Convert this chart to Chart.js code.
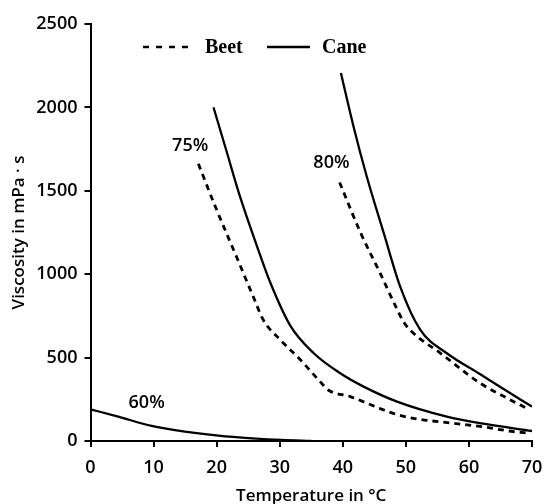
<!DOCTYPE html>
<html>
<head>
<meta charset="utf-8">
<script src="https://cdn.jsdelivr.net/npm/chart.js@4.4.1/dist/chart.umd.min.js"></script>
<style>
  html, body { margin:0; padding:0; background:#fff; }
  #wrap { width:547px; height:504px; }
</style>
</head>
<body>
<div id="wrap"><canvas id="chart" width="547" height="504"></canvas></div>
<script>
// ========== DATA ==========
const X_TICKS = [0, 10, 20, 30, 40, 50, 60, 70];
const Y_TICKS = [0, 500, 1000, 1500, 2000, 2500];

// 60 % cane
const cane60T = [0, 4.4, 9.7, 15, 20.3, 25.6, 30.3, 35];
const cane60V = [190, 146, 90, 56, 32, 16, 6, 1];

// 75 %
const cane75T = [19.5, 21.5, 23.7, 26.6, 28.5, 31.7, 35.4, 39.6, 43.3, 48.6, 56.5, 62, 70];
const cane75V = [2000, 1746, 1466, 1146, 950, 690, 526, 406, 326, 236, 146, 105, 60];
const beet75T = [17.1, 20.0, 23.2, 25.8, 27.4, 30.1, 33.3, 36.4, 37.7, 41.2, 44.9, 48.1, 51.2, 57.6, 62, 67.1, 69.5];
const beet75V = [1662, 1386, 1100, 866, 726, 606, 486, 356, 306, 266, 210, 164, 136, 106, 86, 56, 48];

// 80 %
const cane80T = [39.7, 41.7, 43.8, 46.5, 49.1, 52.3, 56.5, 61.8, 66, 70];
const cane80V = [2206, 1886, 1586, 1246, 926, 666, 526, 400, 300, 206];
const beet80T = [39.5, 42.8, 46.0, 48.6, 49.7, 51.2, 55.5, 61.8, 66, 69.5];
const beet80V = [1550, 1250, 1000, 790, 710, 646, 526, 346, 258, 190];

// curve labels: text, temperature, viscosity
const CURVE_LABELS = [['75%', 15.8, 1767], ['80%', 38.2, 1668], ['60%', 8.9, 228]];

// ========== HELPERS ==========
const pts = (t, v) => t.map((x, i) => ({x, y: v[i]}));
const FONT = '"Open Sans", "DejaVu Sans", sans-serif';

function series(label, t, v, dashed){
  return {
    label, data: pts(t, v),
    borderColor:'#000', borderWidth: dashed ? 2.8 : 2.3,
    borderDash: dashed ? [6, 5] : [],
    pointRadius:0, showLine:true, fill:false,
    cubicInterpolationMode:'monotone'
  };
}

// legend + curve labels drawn inside the plot
const annotate = {
  id:'annotate',
  afterDatasetsDraw(chart){
    const {ctx, scales:{x, y}} = chart;
    ctx.save();
    ctx.fillStyle = '#000';
    ctx.font = `600 18px ${FONT}`;
    ctx.textAlign = 'center';
    ctx.textBaseline = 'middle';
    CURVE_LABELS.forEach(([txt, t, v]) => ctx.fillText(txt, x.getPixelForValue(t), y.getPixelForValue(v)));

    // legend
    ctx.strokeStyle = '#000';
    ctx.lineWidth = 2.5;
    ctx.setLineDash([6, 7]);
    ctx.beginPath(); ctx.moveTo(143, 47); ctx.lineTo(194, 47); ctx.stroke();
    ctx.setLineDash([]);
    ctx.beginPath(); ctx.moveTo(267, 47); ctx.lineTo(310, 47); ctx.stroke();
    ctx.font = 'bold 20px "Liberation Serif", serif';
    ctx.textAlign = 'left';
    ctx.textBaseline = 'alphabetic';
    ctx.fillText('Beet', 205, 53);
    ctx.fillText('Cane', 322, 53);
    ctx.restore();
  }
};

const plain = v => String(v);

// ========== CHART ==========
new Chart(document.getElementById('chart'), {
  type:'scatter',
  data:{ datasets:[
    series('Cane 60%', cane60T, cane60V, false),
    series('Beet 75%', beet75T, beet75V, true),
    series('Cane 75%', cane75T, cane75V, false),
    series('Beet 80%', beet80T, beet80V, true),
    series('Cane 80%', cane80T, cane80V, false)
  ]},
  options:{
    responsive:false, animation:false,
    layout:{ padding:{ top:24, right:15, left:0, bottom:0 } },
    plugins:{ legend:{display:false}, tooltip:{enabled:false} },
    scales:{
      x:{
        type:'linear', min:0, max:70,
        afterBuildTicks: s => { s.ticks = X_TICKS.map(value => ({value})); },
        afterFit: s => { s.height = 63; s.paddingLeft = 0; s.paddingRight = 0; },
        border:{ display:true, color:'#000', width:2 },
        grid:{ drawOnChartArea:false, drawTicks:true, tickLength:6, color:'#000', lineWidth:2 },
        ticks:{ color:'#000', padding:10, maxRotation:0, callback:plain, font:{ family:FONT, size:18, weight:'600' } },
        title:{ display:true, text:'Temperature in °C', color:'#000', padding:{top:0, bottom:-2},
                font:{ family:FONT, size:17, weight:'600' } }
      },
      y:{
        type:'linear', min:0, max:2500,
        afterBuildTicks: s => { s.ticks = Y_TICKS.map(value => ({value})); },
        afterFit: s => { s.width = 90.5; },
        border:{ display:true, color:'#000', width:2 },
        grid:{ drawOnChartArea:false, drawTicks:true, tickLength:6, color:'#000', lineWidth:2 },
        ticks:{ color:'#000', padding:7, callback:plain, font:{ family:FONT, size:18, weight:'600' } },
        title:{ display:true, text:'Viscosity in mPa · s', color:'#000', padding:{top:9, bottom:0},
                font:{ family:FONT, size:17, weight:'600' } }
      }
    }
  },
  plugins:[annotate]
});
</script>
</body>
</html>
